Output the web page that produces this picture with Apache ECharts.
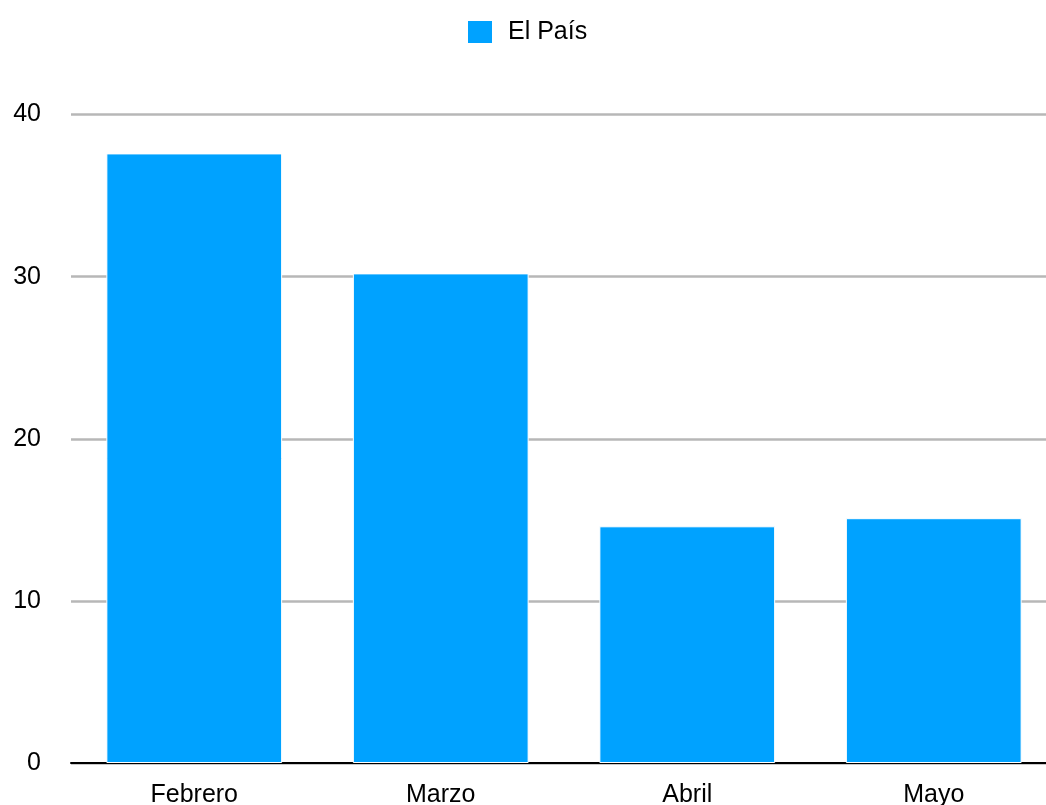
<!DOCTYPE html>
<html>
<head>
<meta charset="utf-8">
<script src="https://cdn.jsdelivr.net/npm/echarts@6/dist/echarts.min.js"></script>
<style>html,body{margin:0;padding:0;background:#fff}#c{width:1046px;height:805px}</style>
</head>
<body>
<div id="c"></div>
<script>
var categories = ['Febrero', 'Marzo', 'Abril', 'Mayo'];
var elPais = [37.6, 30.2, 14.6, 15.1];
var seriesName = 'El País';

var chart = echarts.init(document.getElementById('c'), null, {renderer: 'canvas'});
chart.setOption({
  animation: false,
  backgroundColor: '#ffffff',
  textStyle: {fontFamily: 'Liberation Sans, Arial, sans-serif'},
  legend: {
    top: 19,
    left: 466,
    padding: 0,
    itemWidth: 26,
    itemHeight: 24,
    itemGap: 10,
    icon: 'rect',
    textStyle: {fontSize: 25, color: '#000', padding: [0, 0, 0, 10], fontFamily: 'Liberation Sans, Arial, sans-serif'},
    data: [seriesName]
  },
  grid: {left: 71, width: 986, top: 114.5, bottom: 42, containLabel: false, outerBoundsMode: 'none'},
  xAxis: {
    type: 'category',
    data: categories,
    axisLine: {lineStyle: {color: '#000', width: 2}},
    axisTick: {show: false},
    axisLabel: {fontSize: 25, color: '#000', margin: 20}
  },
  yAxis: {
    type: 'value',
    min: 0, max: 40, interval: 10,
    axisLine: {show: false},
    axisTick: {show: false},
    axisLabel: {fontSize: 25, color: '#000', margin: 30},
    splitLine: {lineStyle: {color: '#b7b7b7', width: 2.5}}
  },
  series: [{
    name: seriesName,
    type: 'bar',
    data: elPais,
    barWidth: '71.3%',
    itemStyle: {color: '#00a2ff', borderColor: '#ffffff', borderWidth: 1}
  }]
});
</script>
</body>
</html>
